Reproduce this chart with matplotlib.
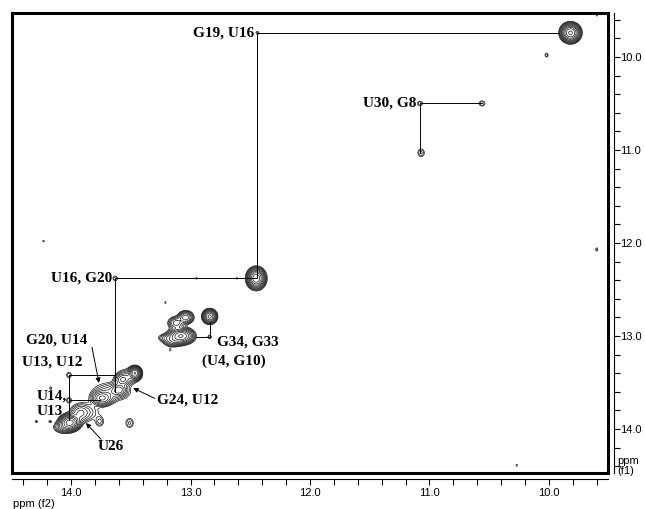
import matplotlib
matplotlib.use('Agg')
import matplotlib.pyplot as plt
from matplotlib.ticker import MultipleLocator, FormatStrFormatter
import numpy as np

# peaks: f2 (x) ppm, f1 (y) ppm, height, width x, width y
peak_x = [9.82, 12.45, 13.08, 13.04, 12.84, 13.20, 12.84, 13.12, 13.15,
          13.465, 13.74, 13.60, 13.57, 14.01, 14.06, 13.925, 13.76, 13.51,
          13.66, 13.88, 13.53,
          14.017, 14.017, 13.63, 11.08, 10.56, 11.07, 12.44,
          10.02, 9.60, 9.60, 14.23, 12.95, 12.61, 14.29, 14.175, 14.17, 10.27, 13.21, 13.17]
peak_y = [9.74, 12.38, 13.00, 12.80, 12.79, 13.02, 13.01, 12.86, 13.06,
          13.40, 13.67, 13.58, 13.47, 13.93, 13.98, 13.83, 13.92, 13.935,
          13.60, 13.82, 13.44,
          13.42, 13.69, 12.38, 10.50, 10.50, 11.03, 9.74,
          9.98, 9.55, 12.07, 11.98, 12.38, 12.38, 13.92, 13.92, 13.56, 14.39, 12.64, 13.15]
peak_h = [45, 40, 30, 12, 22, 4, 1.8, 8, 6,
          28, 14, 10, 8, 35, 6, 5, 2.3, 2.3,
          4, 3, 4,
          2.0, 2.0, 1.9, 1.9, 2.0, 2.3, 1.6,
          1.8, 1.3, 1.5, 1.3, 1.3, 1.3, 1.5, 1.5, 1.5, 1.3, 1.3, 1.3]
peak_wx = [0.036, 0.034, 0.050, 0.032, 0.028, 0.040, 0.014, 0.035, 0.040,
           0.025, 0.045, 0.034, 0.034, 0.040, 0.045, 0.040, 0.024, 0.024,
           0.09, 0.07, 0.05,
           0.017, 0.017, 0.017, 0.019, 0.021, 0.021, 0.013,
           0.012, 0.008, 0.010, 0.010, 0.008, 0.008, 0.012, 0.012, 0.010, 0.008, 0.008, 0.008]
peak_wy = [0.045, 0.050, 0.040, 0.034, 0.036, 0.025, 0.017, 0.035, 0.030,
           0.034, 0.040, 0.034, 0.034, 0.040, 0.035, 0.050, 0.038, 0.038,
           0.06, 0.06, 0.05,
           0.024, 0.024, 0.022, 0.022, 0.024, 0.032, 0.016,
           0.020, 0.015, 0.020, 0.012, 0.012, 0.012, 0.012, 0.012, 0.015, 0.015, 0.015, 0.015]

# sequential walk lines: (x0, y0, x1, y1)
walk_lines = [
    (12.44, 9.74, 9.92, 9.74),
    (12.44, 9.74, 12.44, 12.38),
    (13.63, 12.38, 12.44, 12.38),
    (13.63, 12.38, 13.63, 13.60),
    (11.08, 10.50, 10.56, 10.50),
    (11.08, 10.50, 11.08, 11.03),
    (12.84, 13.01, 12.95, 13.01),
    (12.84, 13.01, 12.84, 12.85),
    (14.017, 13.42, 13.63, 13.42),
    (14.017, 13.42, 14.017, 13.90),
    (14.017, 13.69, 13.76, 13.69),
]

# labels: text, x, y, ha
labels = [
    ('G19, U16', 12.47, 9.74, 'right'),
    ('U16, G20', 13.655, 12.38, 'right'),
    ('U30, G8', 11.11, 10.50, 'right'),
    ('G34, G33', 12.78, 13.065, 'left'),
    ('(U4, G10)', 12.905, 13.27, 'left'),
    ('G20, U14', 14.376, 13.04, 'left'),
    ('U13, U12', 14.41, 13.28, 'left'),
    ('U14,', 14.284, 13.645, 'left'),
    ('U13', 14.284, 13.81, 'left'),
    ('G24, U12', 13.28, 13.69, 'left'),
    ('U26', 13.78, 14.19, 'left'),
]

# arrows: tail x, tail y, head x, head y
arrows = [
    (13.825, 13.12, 13.766, 13.505),
    (13.30, 13.67, 13.48, 13.56),
    (13.75, 14.11, 13.875, 13.935),
]

xlim = (14.494, 9.506)
ylim = (14.473, 9.524)

fig = plt.figure(figsize=(6.45, 5.09), dpi=100)
rect = [12/645, (509-473)/509, 596/645, (473-12.7)/509]
ax = fig.add_axes(rect)

gx = np.linspace(9.4, 14.6, 1400)
gy = np.linspace(9.4, 14.6, 1400)
X, Y = np.meshgrid(gx, gy)
Z = np.zeros_like(X)
for px, py, h, wx, wy in zip(peak_x, peak_y, peak_h, peak_wx, peak_wy):
    Z += h*np.exp(-0.5*((X-px)/wx)**2 - 0.5*((Y-py)/wy)**2)

levels = 1.0*1.45**np.arange(0, 12)
ax.contour(X, Y, Z, levels=levels, colors='black', linewidths=0.45)

for x0, y0, x1, y1 in walk_lines:
    ax.plot([x0, x1], [y0, y1], color='black', lw=0.7)

serif = {'family': 'Liberation Serif', 'weight': 'bold', 'size': 11}
for t, x, y, ha in labels:
    ax.text(x, y, t, ha=ha, va='center', fontdict=serif)

for x0, y0, x1, y1 in arrows:
    ax.annotate('', xy=(x1, y1), xytext=(x0, y0),
                arrowprops=dict(arrowstyle='-|>', color='black', lw=0.7,
                                mutation_scale=7, shrinkA=0, shrinkB=0))

ax.set_xlim(xlim)
ax.set_ylim(ylim)
ax.set_xticks([])
ax.set_yticks([])
for s in ax.spines.values():
    s.set_linewidth(2.2)

# scale axes outside the frame
ax2 = fig.add_axes(rect)
ax2.patch.set_visible(False)
ax2.set_xlim(xlim)
ax2.set_ylim(ylim)
ax2.spines['top'].set_visible(False)
ax2.spines['left'].set_visible(False)
for side in ['bottom', 'right']:
    ax2.spines[side].set_position(('outward', 4))
    ax2.spines[side].set_linewidth(0.8)
ax2.yaxis.tick_right()
for a in [ax2.xaxis, ax2.yaxis]:
    a.set_major_locator(MultipleLocator(1.0))
    a.set_minor_locator(MultipleLocator(0.2))
    a.set_major_formatter(FormatStrFormatter('%.1f'))
ax2.tick_params(which='both', direction='out', length=4, width=0.8,
                labelsize=8, labelfontfamily='Liberation Sans')
ax2.tick_params(axis='y', which='both', pad=1)
ax2.tick_params(axis='x', which='both', pad=3)

fig.text(13/645, 1-504/509, 'ppm (f2)', fontsize=8, family='Liberation Sans',
         ha='left', va='center')
fig.text(617/645, 1-466/509, 'ppm\n(f1)', fontsize=8, family='Liberation Sans',
         ha='left', va='center', linespacing=1.0)

fig.savefig('out.png', dpi=100)
